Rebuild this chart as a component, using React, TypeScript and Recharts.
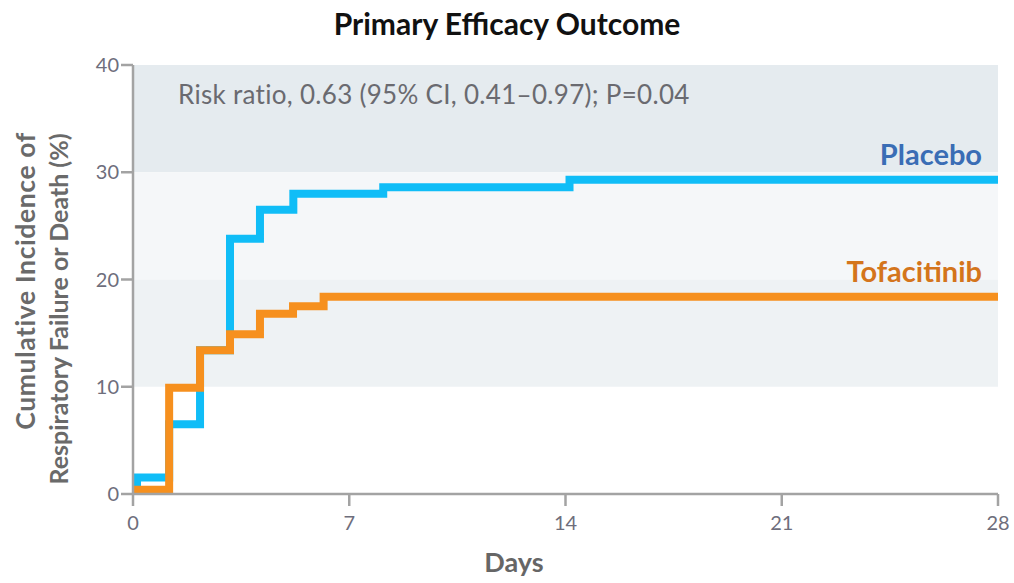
import React from 'react';
import { LineChart, Line, XAxis, YAxis, ReferenceArea, LabelList, Label } from 'recharts';

const placeboDays = [0.13, 0.13, 1.17, 2.17, 3.14, 4.11, 5.19, 8.1, 14.13, 28];
const placeboValues = [0, 1.55, 6.5, 13.4, 23.8, 26.5, 28.0, 28.6, 29.3, 29.3];
const tofaDays = [0.13, 0.13, 1.17, 2.17, 3.14, 4.11, 5.18, 6.17, 28];
const tofaValues = [0, 0.4, 9.9, 13.4, 14.9, 16.8, 17.5, 18.4, 18.4];
const xTicks = [0, 7, 14, 21, 28];
const yTicks = [0, 10, 20, 30, 40];
const seriesNames = ['Placebo', 'Tofacitinib'];
const title = 'Primary Efficacy Outcome';
const annotation = 'Risk ratio, 0.63 (95% CI, 0.41\u20130.97); P=0.04';
const yLabelLines = ['Cumulative Incidence of', 'Respiratory Failure or Death (%)'];
const xLabel = 'Days';

const placeboData = placeboDays.map((d, i) => ({ day: d, value: placeboValues[i] }));
const tofaData = tofaDays.map((d, i) => ({ day: d, value: tofaValues[i] }));

const FONT = 'Lato, "Open Sans", sans-serif';
const AXIS = '#a3a3a3';
const TICK = '#6e6e7c';

const endLabel = (name: string, color: string, count: number) => (props: any) => {
  const { x, y, index } = props;
  if (index !== count - 1) return null;
  return (
    <text x={x - 16} y={y - 15} textAnchor="end" fill={color} fontSize={29} fontWeight={700} fontFamily={FONT}>
      {name}
    </text>
  );
};

export default function App() {
  return (
    <div style={{ position: 'absolute', left: 0, top: 0, width: 1014, height: 583, background: '#fff', fontFamily: FONT }}>
      <div style={{ position: 'absolute', left: 0, top: 6, width: 1014, textAlign: 'center', fontSize: 30, fontWeight: 700, color: '#111', lineHeight: '35px' }}>
        {title}
      </div>
      <LineChart width={1014} height={583} margin={{ top: 65, right: 16, bottom: 29, left: 73 }}>
        <ReferenceArea y1={30} y2={40} fill="#e5ebef" fillOpacity={1} stroke="none"
          label={{
            content: (p: any) => (
              <text x={p.viewBox.x + 45} y={p.viewBox.y + 39} fill="#6a6a70" fontSize={26} letterSpacing={0.3} fontFamily={FONT}>{annotation}</text>
            ),
          }}
        />
        <ReferenceArea y1={20} y2={30} fill="#f5f7f9" fillOpacity={1} stroke="none" />
        <ReferenceArea y1={10} y2={20} fill="#eef2f4" fillOpacity={1} stroke="none" />
        <XAxis
          type="number"
          dataKey="day"
          domain={[0, 28]}
          ticks={xTicks}
          allowDuplicatedCategory={false}
          tickSize={12}
          tickMargin={10}
          height={60}
          axisLine={{ stroke: AXIS, strokeWidth: 2.5 }}
          tickLine={{ stroke: AXIS, strokeWidth: 2.5 }}
          tick={{ fill: TICK, fontSize: 20, fontFamily: FONT }}
        >
          <Label
            content={() => (
              <text x={514} y={572} textAnchor="middle" fill="#666" fontSize={27} fontWeight={700} fontFamily={FONT}>{xLabel}</text>
            )}
          />
        </XAxis>
        <YAxis
          type="number"
          domain={[0, 40]}
          ticks={yTicks}
          width={60}
          tickSize={12}
          tickMargin={2}
          axisLine={{ stroke: AXIS, strokeWidth: 2.5 }}
          tickLine={{ stroke: AXIS, strokeWidth: 2.5 }}
          tick={{ fill: TICK, fontSize: 20, fontFamily: FONT }}
        >
          <Label
            content={() => (
              <g>
                <text transform="translate(35, 281) rotate(-90)" textAnchor="middle" fill="#6a6a6a" fontSize={26.5} letterSpacing={0.6} fontWeight={700} fontFamily={FONT}>{yLabelLines[0]}</text>
                <text transform="translate(68, 309) rotate(-90)" textAnchor="middle" fill="#6a6a6a" fontSize={25} fontWeight={700} fontFamily={FONT}>{yLabelLines[1]}</text>
              </g>
            )}
          />
        </YAxis>
        <Line
          data={placeboData}
          dataKey="value"
          type="stepAfter"
          stroke="#10bdf7"
          strokeWidth={8}
          strokeLinejoin="miter"
          strokeLinecap="butt"
          dot={false}
          activeDot={false}
          isAnimationActive={false}
        >
          <LabelList dataKey="value" content={endLabel(seriesNames[0], '#3a6db5', placeboData.length)} />
        </Line>
        <Line
          data={tofaData}
          dataKey="value"
          type="stepAfter"
          stroke="#f6901e"
          strokeWidth={8}
          strokeLinejoin="miter"
          strokeLinecap="butt"
          dot={false}
          activeDot={false}
          isAnimationActive={false}
        >
          <LabelList dataKey="value" content={endLabel(seriesNames[1], '#d4751c', tofaData.length)} />
        </Line>
      </LineChart>
    </div>
  );
}
